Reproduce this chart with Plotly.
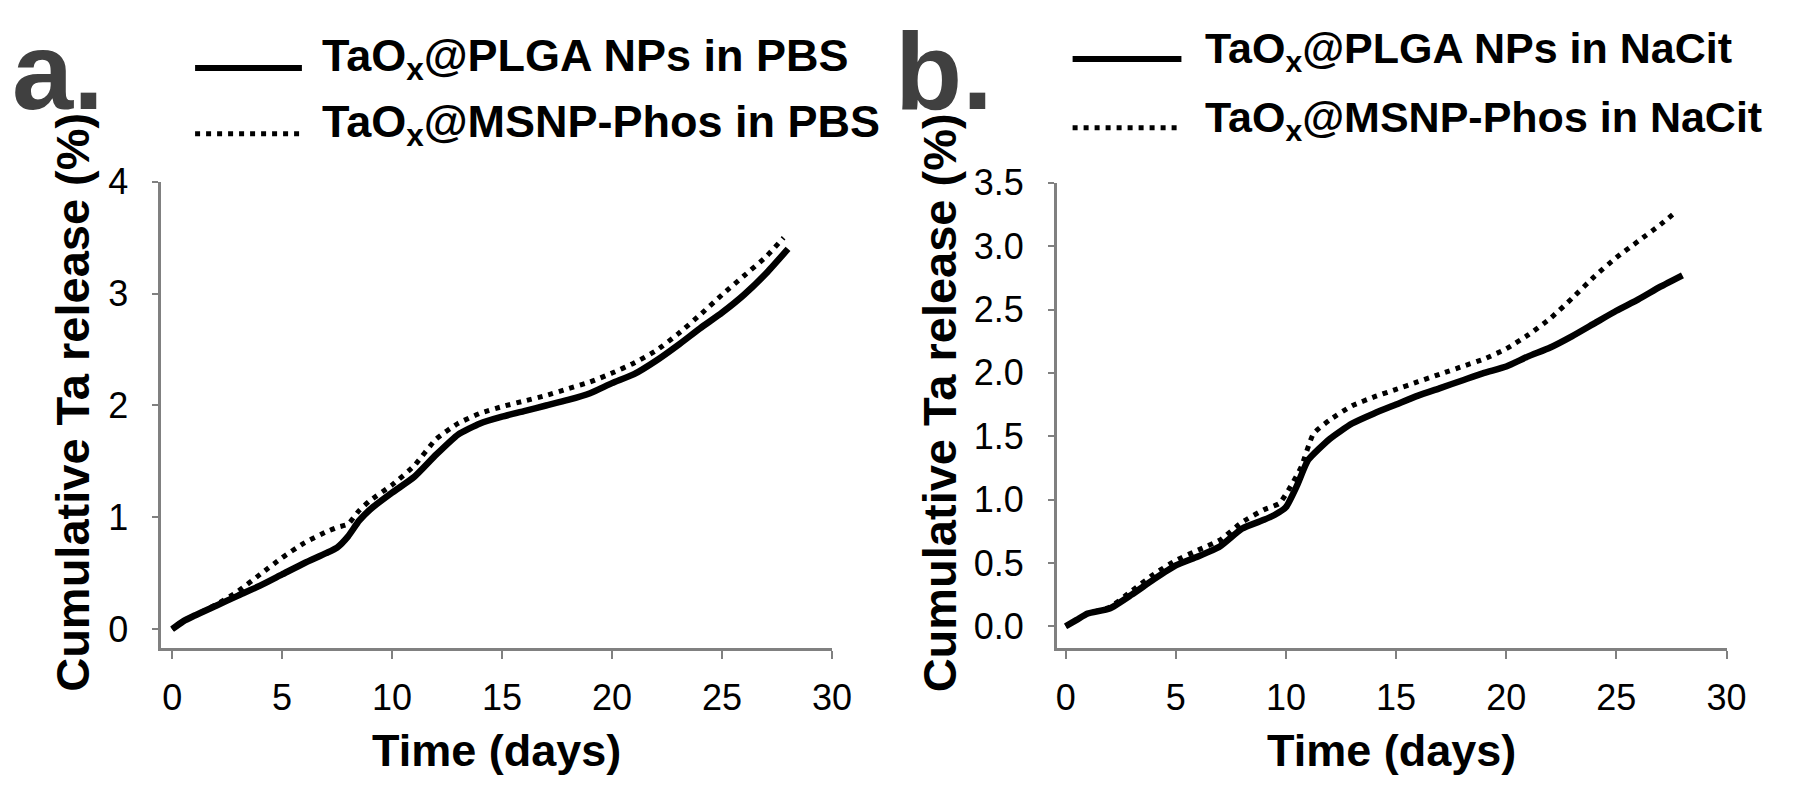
import plotly.graph_objects as go

# ---------------- data ----------------
# Panel a (PBS)
days_a_plga = [0, 0.5, 1, 2, 3, 4, 5, 6, 7, 7.5, 8, 8.5, 9, 10, 11, 12, 13, 14, 15, 16, 17, 18, 19, 20, 21, 22, 23, 24, 25, 26, 27, 28]
rel_a_plga = [0, 0.07, 0.12, 0.21, 0.30, 0.39, 0.49, 0.59, 0.68, 0.73, 0.83, 0.97, 1.07, 1.22, 1.36, 1.56, 1.74, 1.84, 1.90, 1.95, 2.00, 2.05, 2.11, 2.20, 2.28, 2.40, 2.54, 2.69, 2.83, 2.99, 3.18, 3.40]

days_a_msnp = [0, 0.5, 1, 2, 3, 4, 5, 6, 7, 7.5, 8, 8.5, 9, 10, 11, 12, 13, 14, 15, 16, 17, 18, 19, 20, 21, 22, 23, 24, 25, 26, 27, 27.8]
rel_a_msnp = [0, 0.07, 0.12, 0.22, 0.34, 0.49, 0.64, 0.77, 0.87, 0.91, 0.94, 1.06, 1.15, 1.29, 1.46, 1.70, 1.84, 1.93, 1.99, 2.04, 2.09, 2.15, 2.21, 2.29, 2.38, 2.49, 2.64, 2.81, 2.99, 3.16, 3.33, 3.50]

# Panel b (NaCit)
days_b_plga = [0, 0.5, 1, 2, 3, 4, 5, 6, 7, 8, 9, 9.5, 10, 10.5, 11, 12, 13, 14, 15, 16, 17, 18, 19, 20, 21, 22, 23, 24, 25, 26, 27, 28]
rel_b_plga = [0, 0.05, 0.10, 0.14, 0.25, 0.37, 0.48, 0.55, 0.63, 0.77, 0.84, 0.88, 0.94, 1.11, 1.31, 1.48, 1.60, 1.68, 1.75, 1.82, 1.88, 1.94, 2.00, 2.05, 2.13, 2.20, 2.29, 2.39, 2.49, 2.58, 2.68, 2.77]

days_b_msnp = [0, 0.5, 1, 2, 3, 4, 5, 6, 7, 8, 9, 9.7, 10.2, 10.7, 11.25, 12, 13, 14, 15, 16, 17, 18, 19, 20, 21, 22, 23, 24, 25, 26, 27, 27.7]
rel_b_msnp = [0, 0.05, 0.10, 0.15, 0.28, 0.41, 0.52, 0.60, 0.68, 0.82, 0.92, 0.97, 1.10, 1.26, 1.52, 1.63, 1.74, 1.81, 1.87, 1.93, 1.99, 2.05, 2.11, 2.19, 2.30, 2.43, 2.59, 2.76, 2.91, 3.04, 3.17, 3.27]

x_ticks = [0, 5, 10, 15, 20, 25, 30]
y_ticks_a = [0, 1, 2, 3, 4]
y_ticks_b = [0.0, 0.5, 1.0, 1.5, 2.0, 2.5, 3.0, 3.5]

legend_a = ["TaO<sub>x</sub>@PLGA NPs in PBS", "TaO<sub>x</sub>@MSNP-Phos in PBS"]
legend_b = ["TaO<sub>x</sub>@PLGA NPs in NaCit", "TaO<sub>x</sub>@MSNP-Phos in NaCit"]
panel_labels = ["a.", "b."]
x_title = "Time (days)"
y_title = "Cumulative Ta release (%)"

# ---------------- layout helpers ----------------
W, H = 1800, 800
# empirical mapping between requested paper pixels and photographed pixels
SX, OX = 0.99, 6.6
SY, OY = 0.975, 27.0
FONT = "Liberation Sans, Arial, sans-serif"
AXIS_COLOR = "#808080"


def px(x):
    return ((x - OX) / SX) / W


def py(y):
    return 1 - ((y - OY) / SY) / H


fig = go.Figure()

solid = dict(color="black", width=6.5, shape="spline", smoothing=0.5)
dotted = dict(color="black", width=5, dash="5px,6px", shape="spline", smoothing=0.5)

fig.add_trace(go.Scatter(x=days_a_plga, y=rel_a_plga, mode="lines", line=solid, xaxis="x", yaxis="y", showlegend=False))
fig.add_trace(go.Scatter(x=days_a_msnp, y=rel_a_msnp, mode="lines", line=dotted, xaxis="x", yaxis="y", showlegend=False))
fig.add_trace(go.Scatter(x=days_b_plga, y=rel_b_plga, mode="lines", line=solid, xaxis="x2", yaxis="y2", showlegend=False))
fig.add_trace(go.Scatter(x=days_b_msnp, y=rel_b_msnp, mode="lines", line=dotted, xaxis="x2", yaxis="y2", showlegend=False))

axis_common = dict(
    showline=True, linecolor=AXIS_COLOR, linewidth=2.5,
    ticks="outside", tickcolor=AXIS_COLOR, tickwidth=2,
    showgrid=False, zeroline=False,
    tickfont=dict(family=FONT, size=36, color="black"),
)

fig.update_layout(
    width=W, height=H,
    margin=dict(l=0, r=0, t=0, b=0),
    paper_bgcolor="white", plot_bgcolor="white",
    xaxis=dict(domain=[px(159), px(831)], range=[-0.5, 30], tickvals=x_ticks, ticklen=8,
               ticklabelstandoff=8, anchor="y", **axis_common),
    yaxis=dict(domain=[py(648), py(181)], range=[-0.17, 4.0], tickvals=y_ticks_a, ticklen=6,
               ticklabelstandoff=17, anchor="x", **axis_common),
    xaxis2=dict(domain=[px(1056), px(1727)], range=[-0.41, 30], tickvals=x_ticks, ticklen=8,
                ticklabelstandoff=8, anchor="y2", **axis_common),
    yaxis2=dict(domain=[py(647.6), py(182)], range=[-0.17, 3.5], tickvals=y_ticks_b, tickformat=".1f",
                ticklen=6, ticklabelstandoff=17, anchor="x2", **axis_common),
)

annotations = []
shapes = []

# axis titles
for cx, ycx in [(495, 70), (1391, 939)]:
    annotations.append(dict(text=x_title, x=px(cx), y=py(750), xref="paper", yref="paper",
                            xanchor="center", yanchor="middle", showarrow=False,
                            font=dict(family=FONT, size=45, color="black", weight="bold")))
    annotations.append(dict(text=y_title, x=px(ycx), y=py(402), xref="paper", yref="paper",
                            xanchor="center", yanchor="middle", showarrow=False, textangle=-90,
                            font=dict(family=FONT, size=47, color="black", weight="bold")))

# panel labels
for lbl, lx in zip(panel_labels, [9, 893]):
    annotations.append(dict(text=lbl, x=px(lx), y=py(70), xref="paper", yref="paper",
                            xanchor="left", yanchor="middle", showarrow=False, borderpad=0,
                            font=dict(family=FONT, size=110, color="#404040", weight="bold")))

# legends (keys drawn as shapes, labels as annotations)
legend_specs = [
    (legend_a, 193, 300, 318, [67, 133], [58, 124], 45),
    (legend_b, 1072, 1181, 1203, [58, 127], [50, 119], 43),
]
for texts, kx0, kx1, tx, key_ys, text_ys, fsize in legend_specs:
    for i, (t, ky, tyc) in enumerate(zip(texts, key_ys, text_ys)):
        shapes.append(dict(type="line", xref="paper", yref="paper",
                           x0=px(kx0), x1=px(kx1), y0=py(ky), y1=py(ky),
                           line=dict(color="black", width=6 if i == 0 else 5,
                                     dash="solid" if i == 0 else "5px,6px")))
        annotations.append(dict(text=t, x=px(tx), y=py(tyc), xref="paper", yref="paper",
                                xanchor="left", yanchor="middle", showarrow=False,
                                font=dict(family=FONT, size=fsize, color="black", weight="bold")))

fig.update_layout(annotations=annotations, shapes=shapes)

fig.write_html("out.html")
